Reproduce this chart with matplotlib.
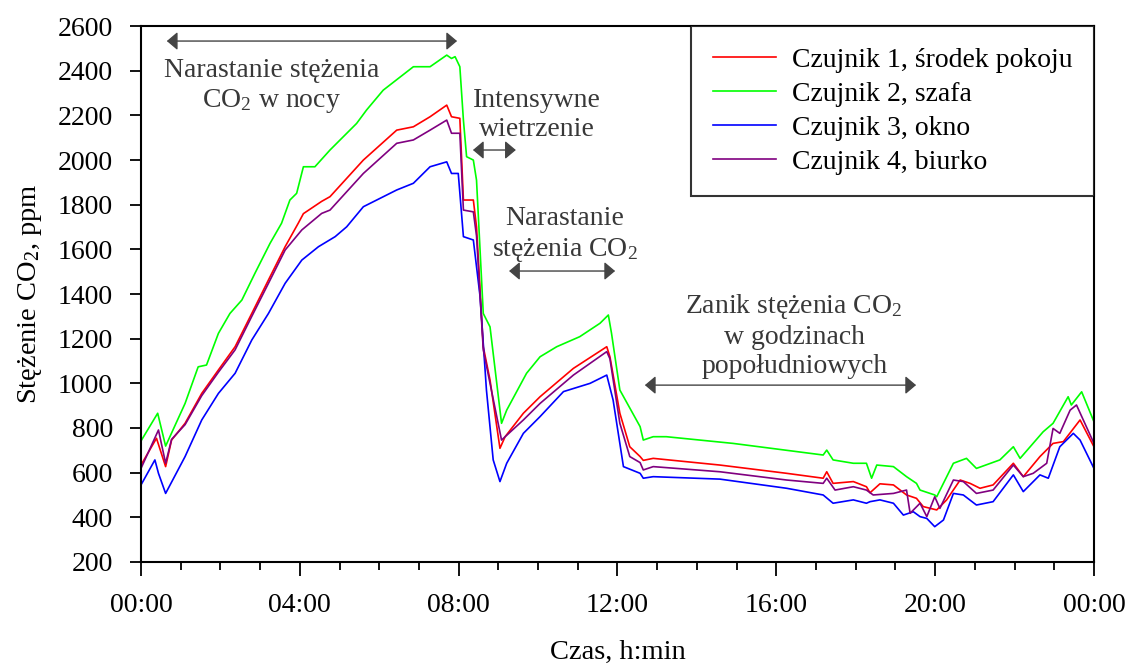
import numpy as np
import matplotlib.pyplot as plt
from matplotlib.ticker import MultipleLocator, FuncFormatter

plt.rcParams['font.family'] = ['Liberation Serif', 'DejaVu Serif']
plt.rcParams['mathtext.fontset'] = 'custom'
plt.rcParams['mathtext.rm'] = 'Liberation Serif'
plt.rcParams['mathtext.it'] = 'Liberation Serif:italic'

# time in hours, CO2 in ppm
t_red = [0, 0.39, 0.62, 0.77, 1.11, 1.53, 1.95, 2.37, 2.79, 3.21, 3.63, 3.96, 4.09, 4.55, 4.76,
         5.60, 6.44, 6.86, 7.28, 7.70, 7.82, 8.03, 8.12, 8.37, 8.45, 8.62, 8.79, 9.04, 9.17, 9.63,
         10.05, 10.89, 11.73, 11.81, 12.06, 12.31, 12.57, 12.65, 12.90, 14.58, 16.26, 17.18, 17.27,
         17.43, 17.94, 18.27, 18.36, 18.61, 18.95, 19.28, 19.53, 19.70, 20.04, 20.29, 20.63, 20.88,
         21.13, 21.46, 21.97, 22.22, 22.64, 22.97, 23.23, 23.65, 24.0]
co2_red = [634, 754, 627, 746, 821, 955, 1060, 1164, 1313, 1463, 1612, 1717, 1760, 1815, 1836,
           2000, 2134, 2149, 2194, 2246, 2194, 2187, 1821, 1821, 1701, 1164, 1015, 709, 761, 866,
           940, 1067, 1164, 1119, 866, 716, 672, 655, 664, 634, 597, 575, 604,
           552, 560, 537, 510, 550, 545, 500, 485, 448, 433, 478, 567, 552,
           530, 545, 642, 582, 672, 731, 739, 836, 716]

t_green = [0, 0.42, 0.62, 1.11, 1.44, 1.65, 1.95, 2.24, 2.54, 2.87, 3.25, 3.54, 3.75, 3.92, 4.09,
           4.38, 4.76, 5.43, 5.68, 6.10, 6.86, 7.28, 7.70, 7.82, 7.91, 8.03, 8.12, 8.20, 8.37, 8.45,
           8.62, 8.79, 9.08, 9.21, 9.71, 10.05, 10.47, 11.05, 11.56, 11.77, 11.85, 12.06, 12.57,
           12.65, 12.90, 13.23, 14.91, 17.18, 17.27, 17.43, 17.94, 18.27, 18.40, 18.53, 18.95,
           19.28, 19.53, 19.62, 19.99, 20.04, 20.46, 20.79, 21.04, 21.63, 21.97, 22.14, 22.72,
           22.97, 23.35, 23.43, 23.69, 24.0]
co2_green = [742, 866, 719, 910, 1074, 1082, 1224, 1313, 1373, 1493, 1627, 1717, 1821, 1851, 1970,
             1970, 2045, 2164, 2224, 2313, 2418, 2418, 2470, 2455, 2463, 2418, 2179, 2015, 2000, 1910,
             1313, 1253, 821, 880, 1045, 1119, 1164, 1209, 1269, 1306, 1224, 970, 806,
             746, 761, 761, 731, 679, 701, 657, 642, 642, 575, 634, 627,
             582, 552, 522, 500, 492, 642, 664, 619, 657, 716, 664, 783,
             821, 940, 903, 962, 828]

t_blue = [0, 0.35, 0.44, 0.62, 1.11, 1.53, 1.95, 2.37, 2.79, 3.21, 3.63, 4.05, 4.47, 4.89, 5.18,
          5.60, 6.44, 6.86, 7.28, 7.70, 7.82, 7.99, 8.12, 8.37, 8.54, 8.70, 8.87, 9.04, 9.21, 9.63,
          10.05, 10.64, 11.31, 11.73, 11.89, 12.15, 12.57, 12.65, 12.90, 14.58, 16.26, 17.18,
          17.43, 17.94, 18.27, 18.36, 18.61, 18.95, 19.20, 19.45, 19.62, 19.79, 19.99, 20.21,
          20.46, 20.71, 21.04, 21.46, 21.97, 22.22, 22.64, 22.85, 23.14, 23.48, 23.65, 24.0]
co2_blue = [545, 657, 597, 507, 672, 836, 955, 1045, 1194, 1313, 1448, 1552, 1612, 1657, 1701,
            1791, 1866, 1896, 1970, 1992, 1940, 1940, 1657, 1642, 1388, 970, 657, 560, 642, 776,
            851, 963, 1000, 1037, 925, 627, 597, 575, 582, 571, 530, 500,
            463, 478, 463, 470, 478, 463, 410, 425, 403, 395, 358, 388,
            507, 500, 455, 470, 590, 515, 590, 575, 716, 776, 746, 619]

t_purple = [0, 0.44, 0.62, 0.77, 1.11, 1.53, 1.95, 2.37, 2.79, 3.21, 3.63, 4.05, 4.55, 4.76, 5.60,
            6.44, 6.86, 7.28, 7.70, 7.82, 8.03, 8.12, 8.37, 8.45, 8.62, 8.79, 9.08, 9.63, 10.05,
            10.89, 11.73, 11.81, 12.06, 12.31, 12.57, 12.65, 12.90, 14.58, 16.26, 17.18, 17.27,
            17.48, 17.94, 18.27, 18.44, 18.95, 19.28, 19.37, 19.62, 19.79, 19.99, 20.12, 20.46,
            20.71, 21.04, 21.46, 21.97, 22.22, 22.47, 22.81, 22.97, 23.14, 23.40, 23.56, 24.0]
co2_purple = [619, 791, 642, 749, 815, 945, 1050, 1150, 1300, 1448, 1597, 1687, 1761, 1776, 1940,
              2075, 2090, 2134, 2179, 2120, 2120, 1776, 1768, 1660, 1150, 1000, 746, 836, 910,
              1037, 1142, 1110, 821, 672, 645, 612, 627, 604, 567, 552, 575,
              522, 537, 522, 500, 507, 522, 418, 463, 403, 492, 440, 567,
              560, 507, 522, 634, 582, 597, 642, 798, 776, 880, 903, 731]

labels = ['Czujnik 1, środek pokoju', 'Czujnik 2, szafa', 'Czujnik 3, okno', 'Czujnik 4, biurko']
colors = ['#ff0000', '#00ff00', '#0000ff', '#800080']

fig = plt.figure(figsize=(11.38, 6.69), dpi=100)
ax = fig.add_axes([0.1239, 0.160, 0.8374, 0.801])

series = [(t_red, co2_red), (t_green, co2_green), (t_blue, co2_blue), (t_purple, co2_purple)]
for (t, c), lab, col in zip(series, labels, colors):
    ax.plot(t, c, color=col, lw=1.2, label=lab)

ax.set_xlim(0, 24)
ax.set_ylim(200, 2600)
ax.xaxis.set_major_locator(MultipleLocator(4))
ax.xaxis.set_minor_locator(MultipleLocator(1))
ax.yaxis.set_major_locator(MultipleLocator(200))
ax.xaxis.set_major_formatter(FuncFormatter(lambda v, p: '%02d:00' % (int(round(v)) % 24)))
ax.tick_params(axis='both', which='major', direction='out', labelsize=20, width=1.3, colors='black')
ax.tick_params(axis='x', which='major', length=10, pad=12)
ax.tick_params(axis='x', which='minor', length=6, width=1.3)
ax.tick_params(axis='y', which='major', length=8, pad=12)
for s in ax.spines.values():
    s.set_linewidth(1.5)

ax.set_xlabel('Czas, h:min', fontsize=20.5, labelpad=16)
ax.set_ylabel('Stężenie CO$_\\mathregular{2}$, ppm', fontsize=20.5, labelpad=10)

leg = ax.legend(loc='upper right', bbox_to_anchor=(1.0, 1.0), borderaxespad=0, fontsize=20,
                frameon=True, fancybox=False, edgecolor='black', handlelength=2.3,
                handletextpad=0.55, labelspacing=0.3, borderpad=0.78)
leg.get_frame().set_linewidth(1.5)

txt_col = '#383838'
arr = dict(arrowstyle='<|-|>,head_length=0.65,head_width=0.55', color='#444444', lw=1,
           shrinkA=0, shrinkB=0)

ax.annotate('', xy=(7.96, 2533), xytext=(0.65, 2533), arrowprops=arr)
ax.text(3.29, 2330, 'Narastanie stężenia\nCO$_\\mathregular{2}$ w nocy', ha='center', va='center',
        fontsize=20, color=txt_col, linespacing=1.22)

ax.annotate('', xy=(9.44, 2045), xytext=(8.36, 2045), arrowprops=arr)
ax.text(9.96, 2200, 'Intensywne\nwietrzenie', ha='center', va='center',
        fontsize=20, color=txt_col, linespacing=1.22)

ax.annotate('', xy=(11.94, 1503), xytext=(9.27, 1503), arrowprops=arr)
ax.text(10.68, 1665, 'Narastanie\nstężenia CO$_\\mathregular{2}$', ha='center', va='center',
        fontsize=20, color=txt_col, linespacing=1.22)

ax.annotate('', xy=(19.52, 992), xytext=(12.69, 992), arrowprops=arr)
ax.text(16.45, 1215, 'Zanik stężenia CO$_\\mathregular{2}$\nw godzinach\npopołudniowych',
        ha='center', va='center', fontsize=20, color=txt_col, linespacing=1.22)

fig.savefig('out.png', dpi=100)
